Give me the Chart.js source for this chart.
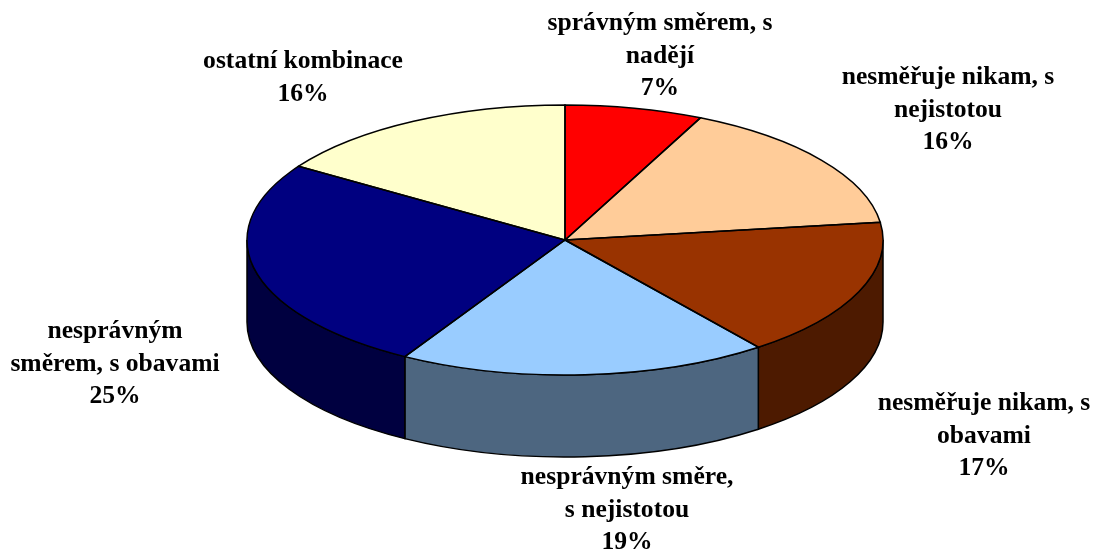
<!DOCTYPE html>
<html>
<head>
<meta charset="utf-8">
<style>
  html, body { margin: 0; padding: 0; background: #fff; }
  canvas { display: block; }
</style>
<script src="https://cdn.jsdelivr.net/npm/chart.js@4"></script>
</head>
<body>
<canvas id="pie" width="1099" height="551"></canvas>
<script>
const categories = [
  ['správným směrem, s', 'nadějí'],
  ['nesměřuje nikam, s', 'nejistotou'],
  ['nesměřuje nikam, s', 'obavami'],
  ['nesprávným směre,', 's nejistotou'],
  ['nesprávným', 'směrem, s obavami'],
  ['ostatní kombinace'],
];
// printed percentages
const percentLabels = ['7%', '16%', '17%', '19%', '25%', '16%'];
const sliceValues = [7.0, 15.9, 16.7, 18.8, 25.8, 15.8];

const topColors = ['#FF0000', '#FFCC99', '#993300', '#99CCFF', '#000080', '#FFFFCC'];
const sideColors = ['#800000', '#80664D', '#4D1A00', '#4D6680', '#000040', '#808066'];

const TILT = 135 / 318;
const DEPTH = 82;
const LABEL_FONT = 'bold 25.6px "Liberation Serif"';
const LINE_HEIGHT = 32.5;
// centre x and first baseline of each label
const labelAnchors = [[660, 30], [948, 84], [984, 410], [627, 484], [115, 338], [303, 68]];

const pie3d = {
  id: 'pie3d',
  beforeDatasetsDraw(chart) {
    const ctx = chart.ctx;
    const arcs = chart.getDatasetMeta(0).data;
    const { x, y, outerRadius } = arcs[0];
    const ry = outerRadius * TILT;

    // side wall, only the front half of the ellipse shows
    arcs.forEach((arc, i) => {
      const a0 = Math.max(arc.startAngle, 0);
      const a1 = Math.min(arc.endAngle, Math.PI);
      if (a1 <= a0) return;
      ctx.beginPath();
      ctx.ellipse(x, y, outerRadius, ry, 0, a0, a1);
      ctx.ellipse(x, y + DEPTH, outerRadius, ry, 0, a1, a0, true);
      ctx.closePath();
      ctx.fillStyle = sideColors[i];
      ctx.fill();
      ctx.lineWidth = 1.5;
      ctx.strokeStyle = '#000';
      ctx.stroke();
    });

    // squash the round pie into an ellipse
    ctx.save();
    ctx.translate(x, y);
    ctx.scale(1, TILT);
    ctx.translate(-x, -y);
  },
  afterDatasetsDraw(chart) {
    const ctx = chart.ctx;
    ctx.restore();

    const arcs = chart.getDatasetMeta(0).data;
    arcs.forEach((arc) => {
      ctx.beginPath();
      ctx.moveTo(arc.x, arc.y);
      ctx.ellipse(arc.x, arc.y, arc.outerRadius, arc.outerRadius * TILT, 0, arc.startAngle, arc.endAngle);
      ctx.closePath();
      ctx.lineWidth = 1.5;
      ctx.strokeStyle = '#000';
      ctx.stroke();
    });

    ctx.font = LABEL_FONT;
    ctx.fillStyle = '#000';
    ctx.textAlign = 'center';
    ctx.textBaseline = 'alphabetic';
    categories.forEach((lines, i) => {
      const [lx, ly] = labelAnchors[i];
      lines.concat(percentLabels[i]).forEach((line, n) => {
        ctx.fillText(line, lx, ly + n * LINE_HEIGHT);
      });
    });
  },
};

new Chart(document.getElementById('pie'), {
  type: 'pie',
  data: {
    labels: categories.map((c) => c.join(' ')),
    datasets: [
      {
        data: sliceValues,
        backgroundColor: topColors,
        borderWidth: 0,
        clip: false,
      },
    ],
  },
  options: {
    responsive: false,
    animation: false,
    events: [],
    radius: 318,
    layout: { padding: { left: 31, bottom: 71 } },
    plugins: {
      legend: { display: false },
      tooltip: { enabled: false },
    },
  },
  plugins: [pie3d],
});
</script>
</body>
</html>
